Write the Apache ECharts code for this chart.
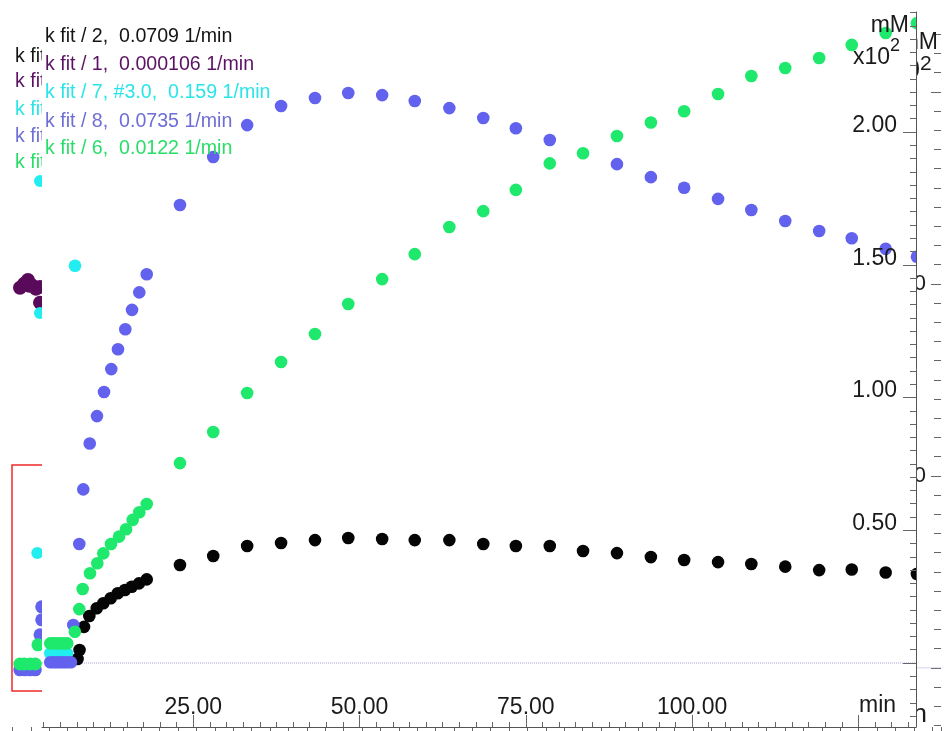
<!DOCTYPE html>
<html><head><meta charset="utf-8">
<script src="https://cdn.jsdelivr.net/npm/echarts@6/dist/echarts.min.js"></script>
<style>html,body{margin:0;padding:0;background:#fff}#c{width:944px;height:731px}</style>
</head><body><div id="c"></div>
<script>
// ---------- series names & colours ----------
const seriesNames = ['k fit / 2,  0.0709 1/min', 'k fit / 1,  0.000106 1/min', 'k fit / 7, #3.0,  0.159 1/min', 'k fit / 8,  0.0735 1/min', 'k fit / 6,  0.0122 1/min'];
const textColors = ['#141414', '#5c1264', '#2ae4e8', '#6e6ed6', '#28de68'];
const dotColors = ['#050505', '#5a0a5a', '#22eef0', '#6262ee', '#1ee96c'];

// ---------- main window data (time in min, value in mM x10^2) ----------
const lateT = [23.0, 28.0, 33.1, 38.2, 43.3, 48.3, 53.4, 58.3, 63.5, 68.6, 73.5, 78.6, 83.6, 88.7, 93.8, 98.8, 103.9, 108.9, 114.0, 119.1, 124.0, 129.1, 133.8];

const blackEarlyT = [7.6, 7.9, 8.57, 9.37, 10.48, 11.47, 12.58, 13.64, 14.73, 15.74, 16.84, 18.0];
const blackEarlyV = [0.015, 0.049, 0.136, 0.177, 0.206, 0.225, 0.244, 0.263, 0.275, 0.287, 0.300, 0.315];
const blackLateV = [0.369, 0.403, 0.441, 0.452, 0.463, 0.471, 0.467, 0.463, 0.463, 0.448, 0.441, 0.441, 0.422, 0.414, 0.399, 0.388, 0.380, 0.373, 0.363, 0.350, 0.352, 0.341, 0.335];

const cyanT = [3.5, 4.0, 4.5, 5.0, 5.5, 6.0, 7.22];
const cyanV = [0.037, 0.037, 0.037, 0.037, 0.037, 0.037, 1.496];

const blueEarlyT = [3.5, 4.0, 4.5, 5.0, 5.5, 6.0, 6.6, 6.96, 7.86, 8.46, 9.43, 10.52, 11.58, 12.67, 13.68, 14.78, 15.79, 16.88, 18.0];
const blueEarlyV = [0.003, 0.003, 0.003, 0.003, 0.003, 0.003, 0.003, 0.143, 0.448, 0.654, 0.827, 0.930, 1.021, 1.107, 1.182, 1.257, 1.330, 1.396, 1.464];
const blueLateV = [1.725, 1.906, 2.026, 2.098, 2.128, 2.147, 2.139, 2.117, 2.090, 2.053, 2.014, 1.970, null, 1.879, 1.830, 1.790, 1.748, 1.706, 1.665, 1.627, 1.600, 1.560, 1.530];

const greenEarlyT = [3.5, 4.0, 4.5, 5.0, 5.5, 6.05, 7.2, 7.86, 8.37, 9.47, 10.57, 11.47, 12.63, 13.83, 14.89, 15.89, 16.88, 18.0];
const greenEarlyV = [0.074, 0.074, 0.074, 0.074, 0.074, 0.074, 0.118, 0.203, 0.279, 0.338, 0.376, 0.413, 0.448, 0.476, 0.504, 0.539, 0.568, 0.599];
const greenLateV = [0.753, 0.870, 1.017, 1.134, 1.239, 1.352, 1.446, 1.540, 1.642, 1.702, 1.782, 1.882, 1.920, 1.985, 2.036, 2.078, 2.143, 2.211, 2.241, 2.279, 2.328, 2.373, 2.410];

// ---------- window underneath (only its edges show) ----------
const backPurpleT = [1.02, 1.56, 2.1, 2.65, 3.19, 3.74, 2.3, 3.74];
const backPurpleV = [0.990, 1.000, 1.010, 0.996, 0.987, 0.992, 0.995, 0.951];
const backCyanT = [3.74, 3.74, 3.37];
const backCyanV = [1.268, 0.924, 0.299];
const backBlueT = [1.0, 1.7, 2.4, 3.1, 3.74, 3.97, 3.97];
const backBlueV = [-0.005, -0.005, -0.005, -0.005, 0.086, 0.125, 0.159];
const backGreenT = [1.0, 1.6, 2.4, 3.1, 3.46];
const backGreenV = [0.010, 0.010, 0.010, 0.010, 0.060];

// ---------- tick labels ----------
const mainXLabelValues = [25, 50, 75, 100];
const mainXMajorTicks = [25, 50, 75, 100, 125];
const mainYLabelValues = [0.5, 1.0, 1.5, 2.0];
const mainYMajorTicks = [0, 0.5, 1.0, 1.5, 2.0];
const backYLabelValues = [0.5, 1.0];
const backYMajorTicks = [0, 0.5, 1.0, 1.5];

// ---------- layout ----------
const FONT = '"Liberation Sans", Arial, sans-serif';
const X_MIN = 2.255, X_MAX = 133.66, Y_MIN = -0.241, Y_MAX = 2.452;
const BX_MAX = 126.2, BY_MIN = -0.154, BY_MAX = 1.661;

function steps(a, b, s) { const r = []; for (let k = Math.round(a / s); k * s <= b + 1e-9; k++) r.push(+(k * s).toFixed(4)); return r; }
const mainXMinorTicks = steps(2.5, 132.5, 2.5);
const mainYMinorTicks = steps(-0.2, 2.45, 0.05);
const backYMinorTicks = steps(-0.15, 1.65, 0.05);

function pairs(ts, vs) { return ts.map((t, i) => [t, vs[i]]).filter(p => p[1] != null); }

function dots(idx, data, z) {
  const color = dotColors[idx];
  return {
    type: 'custom', name: seriesNames[idx], xAxisIndex: 0, yAxisIndex: 0, zlevel: 1, z: z, clip: true,
    data: data, encode: { x: 0, y: 1 },
    renderItem: function (params, api) {
      const p = api.coord([api.value(0), api.value(1)]);
      return { type: 'circle', shape: { cx: p[0], cy: p[1], r: 6.3 }, style: { fill: color } };
    }
  };
}
function backDots(idx, data, size) {
  return { type: 'scatter', name: 'back ' + seriesNames[idx], xAxisIndex: 2, yAxisIndex: 2, zlevel: 0, z: 2,
    symbolSize: size, itemStyle: { color: dotColors[idx], opacity: 1 }, data: data };
}

const chart = echarts.init(document.getElementById('c'), null, { renderer: 'canvas' });

const graphics = [
  { type: 'rect', zlevel: 1, z: 0, silent: true, shape: { x: 42, y: 0, width: 874, height: 727 }, style: { fill: '#ffffff' } },
  { type: 'rect', zlevel: 0, z: 1, silent: true, shape: { x: 12, y: 465, width: 300, height: 226 }, style: { fill: 'none', stroke: '#ee2a2a', lineWidth: 1.5 } }
];
const mainLegendY = [37, 65, 93, 122, 149];
const backLegendY = [57, 82, 110, 137, 163];
seriesNames.forEach((n, i) => {
  graphics.push({ type: 'text', zlevel: 1, z: 10, x: 45, y: mainLegendY[i], silent: true,
    style: { text: n, fill: textColors[i], font: '19.6px ' + FONT, verticalAlign: 'middle', textVerticalAlign: 'middle' } });
  graphics.push({ type: 'text', zlevel: 0, z: 10, x: 15, y: backLegendY[i], silent: true,
    style: { text: n, fill: textColors[i], font: '19.6px ' + FONT, verticalAlign: 'middle', textVerticalAlign: 'middle' } });
});
function txt(text, x, y, size, align, zl) {
  return { type: 'text', zlevel: zl, z: 10, x: x, y: y, silent: true,
    style: { text: text, fill: '#1a1a1a', font: size + 'px ' + FONT, align: align, textAlign: align, verticalAlign: 'middle', textVerticalAlign: 'middle' } };
}
graphics.push(txt('mM', 909, 26, 23, 'right', 1));
graphics.push(txt('x10', 890, 58, 23, 'right', 1));
graphics.push(txt('2', 890, 46, 18, 'left', 1));
graphics.push(txt('min', 859, 706, 23, 'left', 1));
graphics.push(txt('mM', 938, 43, 23, 'right', 0));
graphics.push(txt('x10', 920, 71, 27, 'right', 0));
graphics.push(txt('2', 920, 64, 21, 'left', 0));
graphics.push(txt('min', 927, 715, 26, 'right', 0));

const tickStyle = { color: '#666', width: 1 };

const option = {
  animation: false,
  backgroundColor: '#ffffff',
  grid: [
    { left: 42, right: 28, top: 12, bottom: 4, show: false },
    { left: 12.5, right: 3, top: 30, bottom: 4, show: false }
  ],
  xAxis: [
    { gridIndex: 0, type: 'value', min: X_MIN, max: X_MAX, position: 'bottom', zlevel: 1, z: 5,
      axisLine: { show: true, onZero: false, lineStyle: { color: '#555', width: 1 } },
      axisTick: { show: true, inside: true, length: 12, customValues: mainXMajorTicks, lineStyle: tickStyle },
      axisLabel: { show: true, inside: true, margin: 8, customValues: mainXLabelValues, formatter: v => Number(v).toFixed(2),
        fontSize: 23, fontFamily: FONT, color: '#1a1a1a', verticalAlign: 'bottom', lineHeight: 23 },
      splitLine: { show: false } },
    { gridIndex: 0, type: 'value', min: X_MIN, max: X_MAX, position: 'bottom', offset: 0, zlevel: 1, z: 5,
      axisLine: { show: false, onZero: false },
      axisTick: { show: true, inside: true, length: 5, customValues: mainXMinorTicks, lineStyle: tickStyle },
      axisLabel: { show: false }, splitLine: { show: false } },
    { gridIndex: 1, type: 'value', min: 0, max: BX_MAX, interval: 2.5, position: 'bottom', zlevel: 0, z: 1,
      axisLine: { show: false, onZero: false },
      axisTick: { show: true, inside: false, length: 4, lineStyle: tickStyle },
      axisLabel: { show: false }, splitLine: { show: false } }
  ],
  yAxis: [
    { gridIndex: 0, type: 'value', min: Y_MIN, max: Y_MAX, position: 'right', zlevel: 1, z: 5,
      axisLine: { show: true, onZero: false, lineStyle: { color: '#555', width: 1 } },
      axisTick: { show: true, inside: true, length: 13, customValues: mainYMajorTicks, lineStyle: tickStyle },
      axisLabel: { show: true, inside: true, margin: 19, customValues: mainYLabelValues, formatter: v => Number(v).toFixed(2),
        fontSize: 23, fontFamily: FONT, color: '#1a1a1a', align: 'right', verticalAlign: 'bottom', lineHeight: 13 },
      splitLine: { show: false } },
    { gridIndex: 0, type: 'value', min: Y_MIN, max: Y_MAX, position: 'right', offset: 0, zlevel: 1, z: 5,
      axisLine: { show: false, onZero: false },
      axisTick: { show: true, inside: true, length: 6, customValues: mainYMinorTicks, lineStyle: tickStyle },
      axisLabel: { show: false }, splitLine: { show: false } },
    { gridIndex: 1, type: 'value', min: BY_MIN, max: BY_MAX, position: 'right', zlevel: 0, z: 1,
      axisLine: { show: false, onZero: false },
      axisTick: { show: true, inside: true, length: 10, customValues: backYMajorTicks, lineStyle: tickStyle },
      axisLabel: { show: true, inside: true, margin: 15, customValues: backYLabelValues, formatter: v => Number(v).toFixed(2),
        fontSize: 22, fontFamily: FONT, color: '#1a1a1a', align: 'right', verticalAlign: 'middle' },
      splitLine: { show: false } },
    { gridIndex: 1, type: 'value', min: BY_MIN, max: BY_MAX, position: 'right', offset: 0, zlevel: 0, z: 1,
      axisLine: { show: false, onZero: false },
      axisTick: { show: true, inside: true, length: 7, customValues: backYMinorTicks, lineStyle: tickStyle },
      axisLabel: { show: false }, splitLine: { show: false } }
  ],
  series: [
    // window underneath
    { type: 'line', xAxisIndex: 2, yAxisIndex: 2, zlevel: 0, z: 1, symbol: 'none', silent: true,
      lineStyle: { color: '#a4a4e0', width: 1, type: 'dotted' }, data: [[0, 0], [BX_MAX, 0]] },
    backDots(1, pairs(backPurpleT, backPurpleV), 14),
    backDots(2, pairs(backCyanT, backCyanV), 12),
    backDots(3, pairs(backBlueT, backBlueV), 13),
    backDots(4, pairs(backGreenT, backGreenV), 13),
    // main window
    { type: 'line', xAxisIndex: 0, yAxisIndex: 0, zlevel: 1, z: 1, symbol: 'none', silent: true,
      lineStyle: { color: '#a4a4e0', width: 1, type: 'dotted' }, data: [[X_MIN, 0], [X_MAX, 0]] },
    dots(0, pairs(blackEarlyT, blackEarlyV).concat(pairs(lateT, blackLateV)), 2),
    dots(2, pairs(cyanT, cyanV), 3),
    dots(3, pairs(blueEarlyT, blueEarlyV).concat(pairs(lateT, blueLateV)), 4),
    dots(4, pairs(greenEarlyT, greenEarlyV).concat(pairs(lateT, greenLateV)), 5)
  ],
  graphic: { elements: graphics }
};
chart.setOption(option);
</script></body></html>
